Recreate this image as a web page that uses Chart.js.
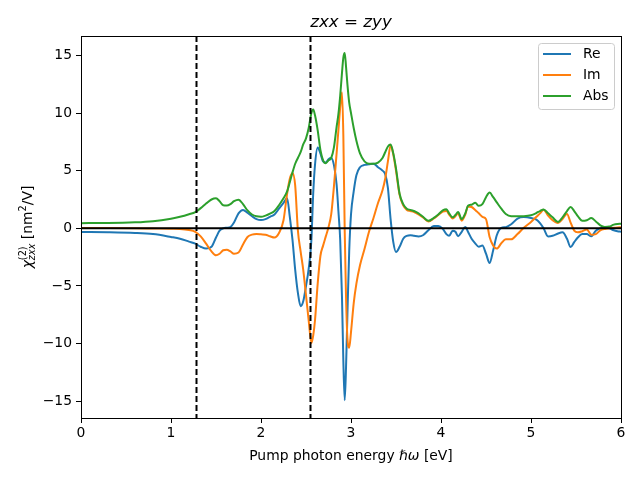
<!DOCTYPE html>
<html>
<head>
<meta charset="utf-8">
<script src="https://cdn.jsdelivr.net/npm/chart.js@4/dist/chart.umd.min.js"></script>
<style>
  html, body { margin: 0; padding: 0; background: #fff; }
  #wrap { width: 640px; height: 480px; }
</style>
</head>
<body>
<div id="wrap"><canvas id="chi2Chart" width="640" height="480"></canvas></div>
<script>
// Pump photon energy grid [eV]
const energy = [
  0, 0.3, 0.6, 0.8, 1.0, 1.1, 1.2, 1.27, 1.33, 1.39, 1.45, 1.5, 1.54, 1.58, 1.62, 1.66, 1.70, 1.75, 1.80, 1.85,
  1.90, 1.95, 2.0, 2.05, 2.1, 2.15, 2.2, 2.25, 2.29, 2.32, 2.35, 2.38, 2.41, 2.44, 2.47, 2.50, 2.53, 2.56, 2.58, 2.60,
  2.63, 2.66, 2.69, 2.72, 2.75, 2.78, 2.81, 2.84, 2.86, 2.88, 2.90, 2.915, 2.93, 2.945, 2.96, 2.98, 3.0, 3.03, 3.06, 3.1,
  3.15, 3.2, 3.25, 3.3, 3.35, 3.38, 3.41, 3.44, 3.47, 3.50, 3.54, 3.58, 3.62, 3.66, 3.70, 3.75, 3.80, 3.86, 3.92, 3.97,
  4.02, 4.06, 4.09, 4.13, 4.16, 4.19, 4.23, 4.27, 4.30, 4.34, 4.38, 4.42, 4.46, 4.50, 4.54, 4.58, 4.62, 4.67, 4.72, 4.78,
  4.85, 4.92, 5.0, 5.06, 5.10, 5.14, 5.19, 5.24, 5.30, 5.35, 5.40, 5.44, 5.48, 5.52, 5.57, 5.62, 5.67, 5.72, 5.77, 5.82,
  5.87, 5.92, 5.96, 6.0
];

const chiRe = [
  -0.32, -0.34, -0.4, -0.5, -0.75, -0.9, -1.15, -1.33, -1.6, -1.76, -1.6, -0.8, -0.2, 0.0, 0.05, 0.11, 0.5, 1.3, 1.6, 1.35,
  1.05, 0.8, 0.72, 0.8, 1.0, 1.2, 1.7, 2.2, 2.6, 1.0, -1.0, -3.6, -5.6, -6.75, -6.3, -5.0, -3.5, -1.0, 3.0, 5.5,
  7.0, 6.5, 5.8, 5.7, 6.0, 6.1, 5.5, 3.8, 1.5, -1.0, -6.0, -11.5, -14.9, -12.0, -7.5, -2.0, 1.2, 3.2, 4.6, 5.3,
  5.5, 5.55, 5.6, 5.3, 5.0, 4.7, 3.5, 0.8, -1.2, -2.05, -1.6, -0.9, -0.65, -0.6, -0.65, -0.7, -0.6, -0.17, 0.2, 0.2,
  -0.05, -0.5, -0.65, -0.2, -0.3, -0.69, -0.3, 0.11, -0.3, -0.9, -1.3, -1.6, -1.5, -2.2, -3.0, -1.9, -0.6, 0.03, 0.1, 0.35,
  0.85, 0.98, 0.9, 0.75, 0.45, 0.0, -0.7, -0.65, -0.45, -0.35, -0.9, -1.62, -1.2, -0.8, -0.5, -0.5, -0.69, -0.2, 0.0, 0.1,
  0.0, -0.17, -0.25, -0.3
];

const chiIm = [
  0.03, 0.02, 0.0, -0.02, -0.04, -0.06, -0.15, -0.3, -0.7, -1.33, -2.0, -2.34, -2.2, -1.9, -1.85, -2.0, -2.2, -2.1, -1.4, -0.75,
  -0.55, -0.5, -0.52, -0.55, -0.69, -0.8, -0.4, 0.7, 3.0, 4.3, 4.8, 3.7, -0.2, -2.0, -3.64, -5.8, -8.0, -9.95, -9.3, -7.97,
  -4.8, -2.4, -1.5, -0.7, 0.1, 1.2, 3.6, 6.5, 8.5, 10.5, 11.8, 8.0, -0.2, -6.0, -9.5, -10.35, -9.0, -6.5, -4.8, -3.2,
  -1.8, -0.3, 0.9, 2.2, 3.3, 4.3, 5.8, 7.2, 6.4, 5.0, 2.9, 2.0, 1.6, 1.5, 1.41, 1.2, 0.95, 0.6, 0.85, 1.15,
  1.45, 1.5, 1.2, 0.85, 1.05, 1.3, 0.66, 1.2, 1.9, 1.85, 1.6, 1.3, 1.0, 0.8, -0.75, -1.5, -1.76, -1.3, -0.95, -0.95,
  -0.5, 0.05, 0.55, 1.0, 1.3, 1.62, 1.1, 0.7, 0.46, 0.8, 1.25, 0.5, -0.2, -0.35, -0.25, -0.1, -0.55, -0.5, -0.17, -0.05,
  0.0, 0.05, 0.08, 0.1
];

const chiAbs = [
  0.45, 0.46, 0.52, 0.62, 0.84, 1.0, 1.22, 1.41, 1.75, 2.15, 2.5, 2.6, 2.35, 2.0, 1.98, 2.1, 2.35, 2.48, 2.1, 1.55,
  1.2, 1.04, 1.0, 1.1, 1.27, 1.5, 2.0, 2.6, 3.2, 4.0, 4.85, 5.6, 6.1, 6.6, 7.3, 7.8, 8.7, 10.0, 10.3, 9.8,
  8.5, 6.8, 5.9, 5.65, 5.9, 6.1, 7.0, 8.8, 9.9, 11.5, 13.5, 14.8, 15.2, 14.0, 12.5, 10.9, 10.0, 8.7, 7.6, 6.5,
  5.8, 5.6, 5.6, 5.7, 6.1, 6.6, 7.1, 7.27, 6.5, 5.2, 3.0, 2.1, 1.7, 1.6, 1.5, 1.3, 1.0, 0.65, 0.9, 1.2,
  1.55, 1.65, 1.3, 0.95, 1.15, 1.41, 0.8, 1.3, 1.95, 2.05, 2.22, 1.95, 2.1, 2.7, 3.1, 2.7, 2.25, 1.7, 1.25, 1.05,
  1.04, 1.05, 1.13, 1.33, 1.5, 1.64, 1.3, 0.95, 0.55, 0.95, 1.5, 1.84, 1.5, 1.05, 0.65, 0.7, 0.89, 0.6, 0.26, 0.12,
  0.15, 0.32, 0.38, 0.4
];

const seriesNames = ['Re', 'Im', 'Abs'];
const seriesColors = ['#1f77b4', '#ff7f0e', '#2ca02c'];
const xTicks = [0, 1, 2, 3, 4, 5, 6];
const yTicks = [-15, -10, -5, 0, 5, 10, 15];
const gapLines = [1.278, 2.544];   // dashed markers [eV]

const FONT = '"DejaVu Sans", sans-serif';

// draw a run of text pieces {t, style, size, dy, stack} centred on x=0
// a piece with stack:true sits at the same x as the one before it (sub under sup)
function drawPieces(ctx, pieces, baseY) {
  const setFont = p => { ctx.font = (p.style || '') + ' ' + p.size + 'px ' + FONT; };
  let total = 0, prevW = 0;
  pieces.forEach(p => {
    setFont(p);
    p.w = ctx.measureText(p.t).width;
    if (p.stack) { total += Math.max(0, p.w - prevW); } else { total += p.w; }
    prevW = p.w;
  });
  let x = -total / 2, startPrev = x;
  prevW = 0;
  pieces.forEach(p => {
    setFont(p);
    if (p.stack) {
      ctx.fillText(p.t, startPrev, baseY + (p.dy || 0));
      x = startPrev + Math.max(prevW, p.w);
    } else {
      startPrev = x;
      ctx.fillText(p.t, x, baseY + (p.dy || 0));
      x += p.w;
    }
    prevW = p.w;
  });
}

const decorPlugin = {
  id: 'decor',
  afterDatasetsDraw(chart) {
    const ctx = chart.ctx;
    const xs = chart.scales.x, ys = chart.scales.y;
    const a = chart.chartArea;
    ctx.save();
    // zero line
    ctx.strokeStyle = '#000';
    ctx.lineWidth = 2;
    ctx.beginPath();
    ctx.moveTo(a.left, ys.getPixelForValue(0));
    ctx.lineTo(a.right, ys.getPixelForValue(0));
    ctx.stroke();
    // dashed gap lines
    ctx.setLineDash([6, 3]);
    gapLines.forEach(g => {
      const px = Math.round(xs.getPixelForValue(g)) + 0.5;
      ctx.beginPath();
      ctx.moveTo(px, a.top);
      ctx.lineTo(px, a.bottom);
      ctx.stroke();
    });
    ctx.setLineDash([]);
    // frame
    ctx.lineWidth = 1;
    ctx.strokeRect(a.left + 0.5, a.top + 0.5, a.right - a.left, a.bottom - a.top);

    // legend
    const bx = a.right - 83, by = a.top + 7, bw = 76, bh = 66;
    ctx.fillStyle = 'rgba(255,255,255,0.8)';
    ctx.strokeStyle = '#cccccc';
    ctx.beginPath();
    ctx.roundRect(bx + 0.5, by + 0.5, bw, bh, 3);
    ctx.fill();
    ctx.stroke();
    ctx.font = '13.9px ' + FONT;
    ctx.textBaseline = 'middle';
    ctx.textAlign = 'left';
    seriesNames.forEach((name, i) => {
      const yy = by + 11 + i * 21;
      ctx.strokeStyle = seriesColors[i];
      ctx.lineWidth = 2;
      ctx.beginPath();
      ctx.moveTo(bx + 5, yy);
      ctx.lineTo(bx + 33, yy);
      ctx.stroke();
      ctx.fillStyle = '#000';
      ctx.fillText(name, bx + 45, yy);
    });

    // titles
    ctx.fillStyle = '#000';
    ctx.textBaseline = 'alphabetic';
    const cx = (a.left + a.right) / 2;
    ctx.save();
    ctx.translate(cx, 0);
    drawPieces(ctx, [
      { t: 'zxx', style: 'italic', size: 16.7 },
      { t: ' = ', size: 16.7 },
      { t: 'zyy', style: 'italic', size: 16.7 }
    ], 27);
    drawPieces(ctx, [
      { t: 'Pump photon energy ', size: 13.9 },
      { t: '\u210F\u03C9', style: 'italic', size: 13.9 },
      { t: ' [eV]', size: 13.9 }
    ], 460);
    ctx.restore();

    ctx.save();
    ctx.translate(31.5, (a.top + a.bottom) / 2);
    ctx.rotate(-Math.PI / 2);
    drawPieces(ctx, [
      { t: '\u03C7', style: 'italic', size: 13.9 },
      { t: '(2)', size: 9.7, dy: -6 },
      { t: 'zxx', style: 'italic', size: 9.7, dy: 3, stack: true },
      { t: ' [nm', size: 13.9 },
      { t: '2', size: 9.7, dy: -6 },
      { t: '/V]', size: 13.9 }
    ], 0);
    ctx.restore();
    ctx.restore();
  }
};

const makeSet = (vals, i, order) => ({
  label: seriesNames[i],
  data: energy.map((e, k) => ({ x: e, y: vals[k] })),
  borderColor: seriesColors[i],
  borderWidth: 2,
  pointRadius: 0,
  cubicInterpolationMode: 'monotone',
  fill: false,
  order: order
});

const ctxChi = document.getElementById('chi2Chart').getContext('2d');
const chi2Chart = new Chart(ctxChi, {
  type: 'line',
  data: {
    datasets: [
      makeSet(chiRe, 0, 3),
      makeSet(chiIm, 1, 2),
      makeSet(chiAbs, 2, 1)
    ]
  },
  options: {
    responsive: false,
    animation: false,
    layout: { padding: { left: 0, right: 19, top: 36, bottom: 0 } },
    plugins: { legend: { display: false }, tooltip: { enabled: false } },
    scales: {
      x: {
        type: 'linear',
        min: 0, max: 6,
        afterBuildTicks: axis => { axis.ticks = xTicks.map(v => ({ value: v })); },
        afterFit: axis => { axis.height = 62; },
        grid: { drawOnChartArea: false, tickLength: 5, color: '#000', tickColor: '#000' },
        border: { display: false },
        ticks: { color: '#000', font: { family: FONT, size: 13.9 }, padding: 2, maxRotation: 0 }
      },
      y: {
        type: 'linear',
        min: -16.45, max: 16.68,
        afterBuildTicks: axis => { axis.ticks = yTicks.map(v => ({ value: v })); },
        afterFit: axis => { axis.width = 81; },
        grid: { drawOnChartArea: false, tickLength: 5, color: '#000', tickColor: '#000' },
        border: { display: false },
        ticks: {
          color: '#000', font: { family: FONT, size: 13.9 }, padding: 4,
          callback: v => (v < 0 ? '\u2212' + Math.abs(v) : String(v))
        }
      }
    }
  },
  plugins: [decorPlugin]
});
</script>
</body>
</html>
